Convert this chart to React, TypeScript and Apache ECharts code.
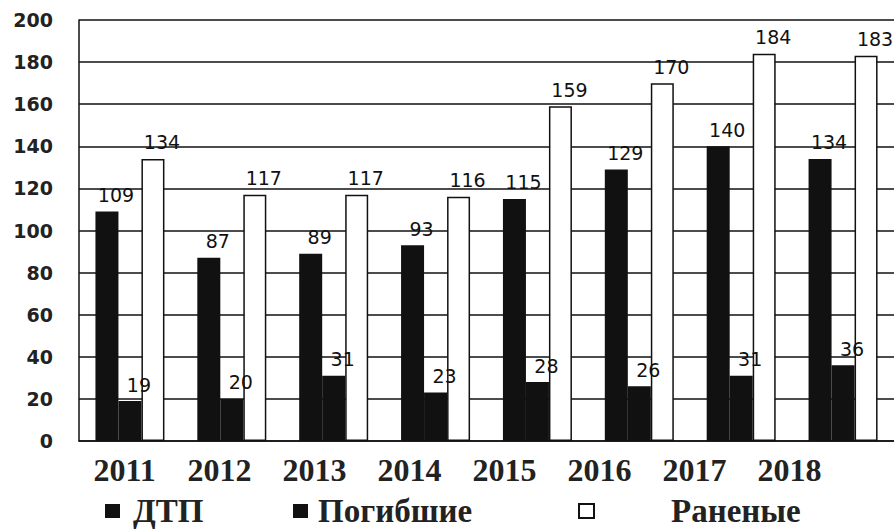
import React, { useEffect, useRef } from "react";
import * as echarts from "echarts";

const categories = ["2011", "2012", "2013", "2014", "2015", "2016", "2017", "2018"];
const dtp = [109, 87, 89, 93, 115, 129, 140, 134];
const killed = [19, 20, 31, 23, 28, 26, 31, 36];
const injured = [134, 117, 117, 116, 159, 170, 184, 183];
const seriesNames = ["ДТП", "Погибшие", "Раненые"];
const yTicks = { min: 0, max: 200, interval: 20 };

export default function App() {
  const ref = useRef<HTMLDivElement>(null);
  useEffect(() => {
    document.body.style.margin = "0";
    const chart = echarts.init(ref.current!, null, { renderer: "svg" });
    const label = {
      show: true,
      position: "top" as const,
      distance: 7,
      offset: [9, 0],
      color: "#111",
      fontSize: 19,
      fontFamily: "DejaVu Sans",
    };
    const legendText = {
      fontFamily: "Liberation Serif",
      fontWeight: "bold" as const,
      fontSize: 33,
      lineHeight: 34,
      color: "#222",
    };
    chart.setOption({
      animation: false,
      backgroundColor: "#fff",
      grid: [
        { left: 79, top: 20, width: 824, height: 421 },
        { left: 77, top: 20, width: 760, height: 421 },
      ],
      xAxis: [
        {
          type: "category",
          gridIndex: 0,
          data: categories,
          axisLine: { lineStyle: { color: "#111", width: 1.5 } },
          axisTick: { show: false },
          axisLabel: { show: false },
        },
        {
          type: "category",
          gridIndex: 1,
          data: categories,
          axisLine: { show: false },
          axisTick: { show: false },
          axisLabel: {
            margin: 13,
            fontFamily: "Liberation Serif",
            fontWeight: "bold",
            fontSize: 32,
            color: "#222",
          },
        },
      ],
      yAxis: [
        {
          type: "value",
          gridIndex: 0,
          min: yTicks.min,
          max: yTicks.max,
          interval: yTicks.interval,
          axisLine: { show: true, lineStyle: { color: "#111", width: 1.5 } },
          axisTick: { show: false },
          splitLine: { lineStyle: { color: "#111", width: 1.5 } },
          axisLabel: {
            margin: 26,
            fontFamily: "DejaVu Sans",
            fontWeight: "bold",
            fontSize: 19,
            color: "#222",
          },
        },
        { type: "value", gridIndex: 1, show: false, min: 0, max: 200 },
      ],
      legend: [
        {
          data: [seriesNames[0]],
          left: 105,
          top: 494,
          padding: 0,
          icon: "rect",
          itemWidth: 15,
          itemHeight: 14,
          textStyle: { ...legendText, padding: [0, 0, 0, 8] },
        },
        {
          data: [seriesNames[1]],
          left: 293,
          top: 494,
          padding: 0,
          icon: "rect",
          itemWidth: 15,
          itemHeight: 14,
          textStyle: { ...legendText, padding: [0, 0, 0, 5] },
        },
        {
          data: [seriesNames[2]],
          left: 578,
          top: 494,
          padding: 0,
          icon: "rect",
          itemWidth: 15,
          itemHeight: 14,
          textStyle: { ...legendText, padding: [0, 0, 0, 72] },
        },
      ],
      series: [
        {
          name: seriesNames[0],
          type: "bar",
          data: dtp,
          barWidth: 23,
          barGap: "0%",
          itemStyle: { color: "#111" },
          label,
        },
        {
          name: seriesNames[1],
          type: "bar",
          data: killed,
          barWidth: 23,
          barGap: "0%",
          itemStyle: { color: "#111" },
          label,
        },
        {
          name: seriesNames[2],
          type: "bar",
          data: injured,
          barWidth: 23,
          barGap: "0%",
          itemStyle: { color: "#fff", borderColor: "#111", borderWidth: 1.5 },
          label,
        },
        {
          type: "bar",
          xAxisIndex: 1,
          yAxisIndex: 1,
          data: [],
        },
      ],
    });
    return () => chart.dispose();
  }, []);
  return <div ref={ref} style={{ width: 894, height: 531 }} />;
}
